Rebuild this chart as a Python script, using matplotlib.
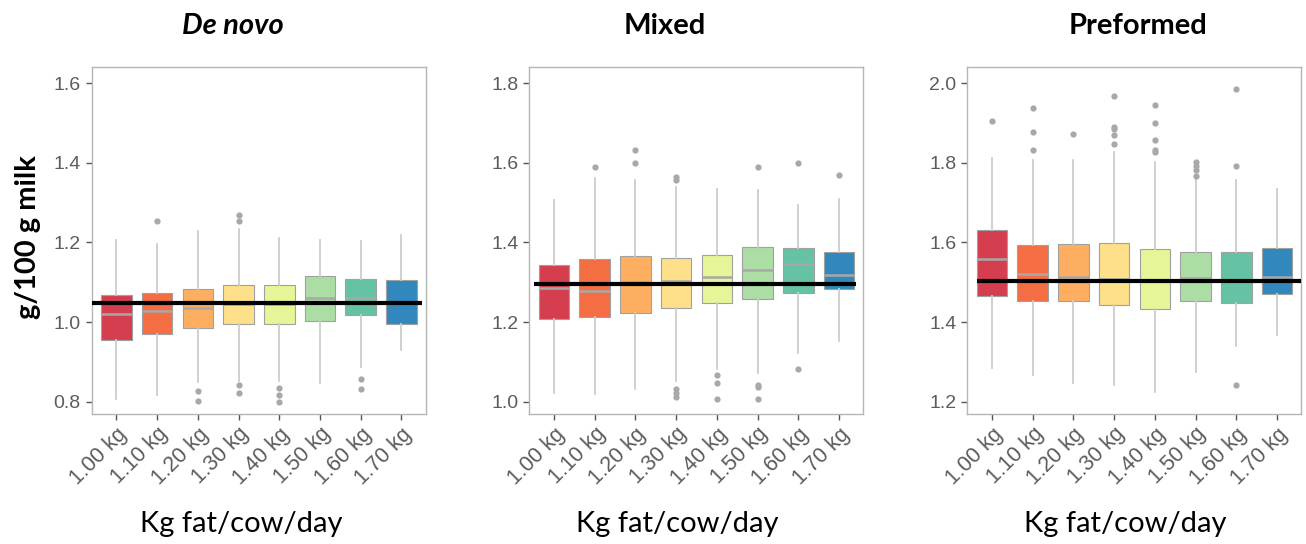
import matplotlib.pyplot as plt

# fat intake classes (x axis)
levels = ['1.00 kg', '1.10 kg', '1.20 kg', '1.30 kg', '1.40 kg', '1.50 kg', '1.60 kg', '1.70 kg']
colors = ['#D53E4F', '#F46D43', '#FDAE61', '#FEE08B', '#E6F598', '#ABDDA4', '#66C2A5', '#3288BD']

# De novo fatty acids
dn_q1 = [0.955, 0.970, 0.986, 0.996, 0.996, 1.002, 1.017, 0.994]
dn_med = [1.020, 1.029, 1.036, 1.046, 1.045, 1.061, 1.061, 1.047]
dn_q3 = [1.067, 1.074, 1.082, 1.092, 1.094, 1.115, 1.109, 1.105]
dn_lo = [0.808, 0.817, 0.850, 0.852, 0.852, 0.848, 0.888, 0.929]
dn_hi = [1.205, 1.197, 1.228, 1.234, 1.212, 1.207, 1.203, 1.218]
dn_out = [[], [1.255], [0.827, 0.802], [1.268, 1.255, 0.843, 0.822],
          [0.835, 0.818, 0.800], [], [0.857, 0.831], []]
dn_mean = 1.047
dn_ticks = [0.8, 1.0, 1.2, 1.4, 1.6]

# Mixed fatty acids
mx_q1 = [1.2075, 1.212, 1.2225, 1.235, 1.2475, 1.258, 1.2725, 1.2825]
mx_med = [1.285, 1.278, 1.300, 1.304, 1.3125, 1.331, 1.345, 1.318]
mx_q3 = [1.343, 1.3575, 1.366, 1.362, 1.368, 1.389, 1.385, 1.377]
mx_lo = [1.022, 1.020, 1.031, 1.052, 1.081, 1.072, 1.122, 1.153]
mx_hi = [1.506, 1.562, 1.558, 1.539, 1.535, 1.531, 1.495, 1.510]
mx_out = [[], [1.589], [1.631, 1.600], [1.564, 1.558, 1.033, 1.022, 1.011],
          [1.067, 1.047, 1.006], [1.589, 1.042, 1.037, 1.008], [1.600, 1.081], [1.570]]
mx_mean = 1.296
mx_ticks = [1.0, 1.2, 1.4, 1.6, 1.8]

# Preformed fatty acids
pf_q1 = [1.466, 1.452, 1.452, 1.442, 1.433, 1.452, 1.4475, 1.470]
pf_med = [1.5575, 1.520, 1.514, 1.508, 1.505, 1.510, 1.505, 1.514]
pf_q3 = [1.631, 1.593, 1.595, 1.5975, 1.583, 1.575, 1.575, 1.585]
pf_lo = [1.285, 1.267, 1.2475, 1.242, 1.224, 1.275, 1.339, 1.367]
pf_hi = [1.812, 1.806, 1.806, 1.828, 1.802, 1.764, 1.756, 1.735]
pf_out = [[1.906], [1.937, 1.878, 1.8325], [1.8725], [1.968, 1.891, 1.885, 1.870, 1.8475],
          [1.946, 1.899, 1.8575, 1.833, 1.827], [1.803, 1.792, 1.781, 1.768],
          [1.985, 1.793, 1.242], []]
pf_mean = 1.504
pf_ticks = [1.2, 1.4, 1.6, 1.8, 2.0]

panels = [
    ('De novo', 'italic', dn_q1, dn_med, dn_q3, dn_lo, dn_hi, dn_out, dn_mean, dn_ticks),
    ('Mixed', 'normal', mx_q1, mx_med, mx_q3, mx_lo, mx_hi, mx_out, mx_mean, mx_ticks),
    ('Preformed', 'normal', pf_q1, pf_med, pf_q3, pf_lo, pf_hi, pf_out, pf_mean, pf_ticks),
]

# layout (figure pixels / axis units)
lefts = [0.0704, 0.4054, 0.7408]
title_x = [233, 665, 1138]
xlab_x = [241, 677, 1125]
line_span = [(0.4, 8.5), (0.52, 8.43), (0.63, 8.6)]

fig = plt.figure(figsize=(13.06, 5.44), dpi=100)

for i, (title, style, q1, med, q3, lo, hi, out, mean, ticks) in enumerate(panels):
    ax = fig.add_axes([lefts[i], 0.239, 0.2557, 0.638])
    stats = []
    for k in range(len(levels)):
        stats.append(dict(q1=q1[k], med=med[k], q3=q3[k], whislo=lo[k], whishi=hi[k], fliers=out[k]))
    bp = ax.bxp(stats, positions=range(1, 9), widths=0.75, patch_artist=True, showcaps=False,
                boxprops=dict(edgecolor='#a0a0a0', linewidth=0.8),
                medianprops=dict(color='#a8a8a8', linewidth=1.8),
                whiskerprops=dict(color='#cdcdcd', linewidth=1.3),
                flierprops=dict(marker='o', markerfacecolor='#a8a8a8', markeredgecolor='none',
                                markersize=4.5))
    for patch, c in zip(bp['boxes'], colors):
        patch.set_facecolor(c)

    ax.hlines(mean, line_span[i][0], line_span[i][1], color='black', linewidth=3, zorder=5)

    span = ticks[-1] - ticks[0]
    ax.set_xlim(0.4, 8.6)
    ax.set_ylim(ticks[0] - 0.0385 * span, ticks[-1] + 0.051 * span)
    ax.set_yticks(ticks)
    ax.set_yticklabels(['%.1f' % t for t in ticks], family='Liberation Sans', fontsize=14)
    ax.set_xticks(range(1, 9))
    ax.set_xticklabels(levels, rotation=45, ha='right', va='top', rotation_mode='anchor',
                       family='Liberation Sans', fontsize=15.5)
    ax.tick_params(length=4, width=1, color='#555555', labelcolor='#5c5c5c')
    ax.tick_params(axis='y', pad=4)
    ax.tick_params(axis='x', pad=3)
    for sp in ax.spines.values():
        sp.set_color('#b5b5b5')
        sp.set_linewidth(1)

    fig.text(title_x[i] / 1306, 1 - 26 / 544, title, ha='center', va='center',
             family='Lato', fontweight='bold', fontstyle=style, fontsize=21)
    fig.text(xlab_x[i] / 1306, 1 - 524 / 544, 'Kg fat/cow/day', ha='center', va='center',
             family='Lato', fontsize=21)

fig.text(28 / 1306, 1 - 237 / 544, 'g/100 g milk', ha='center', va='center', rotation=90,
         family='Lato', fontweight='bold', fontsize=21)

fig.savefig('out.png', dpi=100)
